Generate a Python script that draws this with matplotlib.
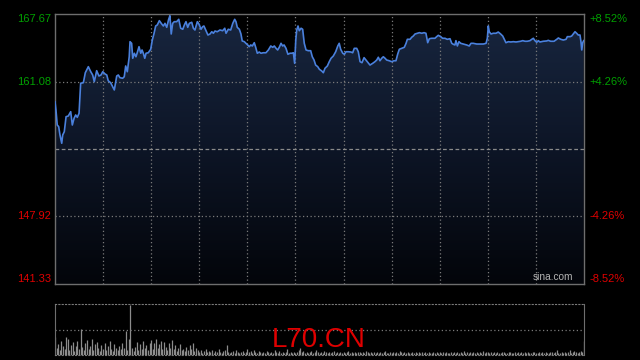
import matplotlib
matplotlib.use("Agg")
import matplotlib.pyplot as plt
import numpy as np
from matplotlib.colors import LinearSegmentedColormap

# ---- data ----
minutes = [0, 0.6, 1.4, 2.3, 3.1, 4.2, 4.8, 5.8, 6.9, 8.3, 9.8, 10.8, 11.9, 12.9, 13.9, 15.0, 16.0, 17.7, 18.9, 20.8,
           22.3, 23.5, 24.5, 26.0, 27.4, 28.7, 29.8, 31.2, 32.3, 33.2, 34.7, 36.0, 37.0, 38.5, 39.5, 40.5, 42.2, 43.2, 44.1, 45.1,
           46.3, 46.8, 47.8, 48.5, 49.5, 50.5, 51.3, 52.4, 53.5, 54.3, 55.1, 56.0, 56.8, 58.2, 59.7, 60.7, 61.8, 62.8, 63.8, 65.1,
           66.6, 67.6, 68.6, 69.7, 70.9, 71.7, 72.5, 73.4, 74.4, 75.9, 77.2, 78.4, 79.7, 80.7, 81.7, 82.8, 83.8, 85.3, 86.3, 87.3,
           88.8, 89.8, 91.1, 92.1, 92.9, 94.2, 95.4, 96.7, 97.8, 98.8, 99.8, 101.2, 102.9, 104.6, 105.9, 106.7, 108.1, 109.6, 110.9, 112.1,
           112.9, 113.7, 115.0, 116.0, 116.8, 118.1, 119.1, 120.2, 121.2, 122.1, 123.1, 124.3, 125.2, 126.2, 127.4, 128.5, 129.9, 131.6, 133.1, 134.6,
           135.8, 136.8, 137.9, 138.9, 139.9, 141.0, 142.0, 142.9, 144.1, 145.3, 146.6, 147.7, 148.7, 149.5, 150.2, 150.8, 151.6, 152.4, 153.5, 154.5,
           155.5, 156.6, 158.0, 159.5, 160.5, 161.6, 162.6, 163.9, 164.9, 166.4, 167.4, 168.4, 169.9, 171.1, 172.2, 173.6, 175.1, 176.4, 177.3, 178.2,
           179.5, 180.5, 181.5, 183.0, 184.6, 185.7, 186.7, 188.2, 189.2, 190.3, 191.5, 192.8, 194.0, 195.3, 196.5, 198.2, 199.6, 200.7, 201.7, 202.7,
           203.8, 204.8, 205.9, 206.9, 208.5, 210.0, 211.5, 212.7, 213.8, 214.8, 216.3, 217.9, 219.0, 219.8, 221.5, 222.5, 223.5, 224.6, 226.0, 227.3,
           228.8, 230.2, 231.4, 232.5, 233.5, 235.0, 237.0, 238.1, 239.1, 240.6, 241.8, 243.3, 244.7, 246.4, 247.5, 248.5, 249.5, 250.1, 251.0, 252.0,
           253.1, 254.7, 256.8, 258.4, 259.5, 260.9, 263.1, 265.6, 267.2, 268.9, 269.7, 270.3, 270.9, 272.0, 273.4, 275.1, 276.5, 278.0, 279.3, 280.3,
           281.3, 282.8, 284.3, 285.9, 287.6, 289.0, 290.5, 291.8, 293.2, 294.6, 296.3, 297.4, 298.4, 299.4, 300.5, 301.5, 302.5, 304.6, 306.7, 307.7,
           309.2, 311.3, 313.0, 314.0, 315.5, 317.1, 318.8, 319.6, 321.3, 322.3, 323.3, 324.4, 325.4, 326.4, 327.5, 328.1, 328.6, 329.2, 329.8]

prices = [159.11, 158.30, 156.84, 156.68, 155.87, 155.06, 155.87, 156.19, 157.65, 157.72, 158.14, 156.84, 157.50, 157.82, 157.59, 157.98, 160.91, 160.97, 161.94, 162.53,
          162.04, 161.72, 161.07, 162.14, 161.62, 161.72, 162.04, 161.82, 161.72, 161.16, 160.97, 160.58, 160.26, 161.62, 161.72, 161.46, 161.40, 161.55, 162.60, 162.04,
          163.50, 164.97, 164.81, 163.35, 163.84, 163.50, 163.89, 164.48, 163.84, 164.16, 163.84, 163.35, 163.84, 163.89, 164.23, 165.13, 165.79, 166.50, 166.60, 167.02,
          166.69, 166.50, 166.76, 166.37, 167.15, 167.50, 165.72, 166.76, 166.92, 166.92, 167.15, 166.28, 166.18, 166.60, 166.92, 166.37, 166.76, 166.86, 166.28, 166.11,
          166.92, 166.69, 166.18, 166.43, 166.50, 166.04, 165.62, 165.72, 165.94, 165.79, 166.01, 165.94, 166.11, 166.04, 166.28, 165.79, 166.18, 166.11, 166.76, 167.15,
          166.92, 166.37, 166.18, 165.72, 165.04, 164.97, 164.81, 164.65, 164.48, 164.65, 164.55, 164.87, 164.42, 163.84, 163.96, 163.84, 163.89, 163.89, 164.16, 164.55,
          164.42, 164.55, 164.32, 164.16, 164.42, 164.81, 164.55, 164.65, 164.32, 163.74, 163.84, 163.84, 163.89, 162.86, 165.13, 166.11, 166.50, 166.04, 166.28, 166.18,
          164.81, 164.16, 164.09, 164.09, 163.50, 163.18, 162.69, 162.53, 162.28, 162.11, 161.94, 162.37, 162.60, 163.02, 163.35, 163.57, 163.99, 164.55, 164.81, 164.23,
          163.84, 163.74, 163.99, 163.99, 163.96, 163.89, 164.32, 164.32, 163.99, 163.02, 162.92, 163.41, 163.18, 162.92, 162.69, 162.86, 163.02, 163.18, 163.45, 163.11,
          163.35, 163.50, 163.35, 163.18, 163.11, 163.02, 163.11, 163.11, 163.77, 164.23, 164.32, 164.42, 164.81, 165.20, 165.20, 165.40, 165.52, 165.72, 165.79, 165.85,
          165.79, 165.85, 165.79, 164.87, 165.26, 165.30, 165.30, 165.46, 165.59, 165.46, 165.30, 165.30, 165.20, 165.26, 164.81, 164.71, 164.65, 165.07, 164.55, 164.97,
          164.81, 164.74, 164.65, 164.55, 164.81, 164.81, 164.74, 164.74, 164.74, 164.81, 165.30, 166.50, 165.94, 165.72, 165.79, 165.79, 165.91, 165.72, 165.52, 165.20,
          164.87, 164.97, 164.94, 164.97, 164.94, 164.97, 165.01, 165.07, 165.01, 165.01, 165.07, 165.20, 165.30, 165.07, 164.91, 165.07, 164.94, 165.01, 165.04, 165.10,
          165.01, 165.01, 165.20, 165.33, 165.20, 165.13, 165.20, 165.46, 165.46, 165.52, 165.72, 165.94, 165.79, 165.62, 165.62, 164.97, 164.16, 164.87, 165.07]

prev_close = 154.50
price_ticks = [141.33, 147.92, 161.08, 167.67]
session_minutes = 330

volumes = [36, 14, 22, 10, 28, 18, 12, 36, 32, 10,
           20, 26, 8, 18, 28, 12, 51, 16, 10, 24,
           30, 12, 18, 32, 10, 22, 26, 14, 8, 20,
           12, 24, 10, 18, 28, 12, 8, 22, 14, 10,
           18, 12, 24, 14, 47, 10, 32, 100, 14, 8,
           16, 26, 10, 22, 12, 28, 14, 20, 10, 24,
           30, 12, 24, 32, 14, 22, 28, 12, 26, 16,
           10, 24, 14, 30, 12, 20, 8, 14, 22, 10,
           12, 8, 16, 10, 20, 12, 24, 8, 14, 10,
           6, 10, 4, 8, 12, 5, 8, 6, 10, 4,
           8, 5, 12, 6, 4, 8, 10, 20, 6, 4,
           5, 8, 4, 10, 6, 3, 5, 8, 4, 6,
           12, 5, 8, 4, 10, 6, 3, 8, 5, 4,
           6, 4, 8, 5, 3, 6, 4, 10, 5, 3,
           8, 4, 6, 3, 5, 12, 4, 6, 3, 5,
           4, 6, 10, 14, 5, 8, 4, 6, 3, 5,
           8, 4, 6, 10, 5, 3, 6, 4, 8, 5,
           4, 6, 3, 5, 8, 4, 6, 3, 5, 4,
           6, 3, 5, 8, 4, 6, 3, 5, 4, 6,
           5, 3, 6, 4, 8, 5, 3, 6, 4, 5,
           3, 5, 4, 6, 3, 5, 8, 4, 3, 6,
           4, 5, 3, 6, 4, 8, 5, 3, 6, 4,
           5, 3, 4, 6, 3, 5, 4, 6, 3, 5,
           4, 6, 3, 5, 4, 3, 6, 4, 5, 3,
           5, 4, 6, 3, 5, 4, 3, 6, 4, 5,
           3, 5, 4, 6, 3, 8, 4, 5, 3, 6,
           4, 5, 3, 6, 4, 5, 3, 8, 4, 5,
           6, 4, 5, 3, 6, 4, 5, 3, 4, 6,
           5, 3, 4, 6, 5, 3, 4, 5, 3, 6,
           4, 5, 3, 6, 4, 5, 3, 4, 6, 5,
           3, 4, 5, 3, 6, 4, 5, 3, 4, 5,
           6, 4, 5, 10, 3, 4, 5, 3, 6, 4,
           5, 10, 4, 6, 8, 5, 4, 6, 8, 5,
           28]
vol_minutes = list(range(len(volumes)))

symbol = "L70.CN"
watermark = "sina.com"

# ---- styling ----
W, H = 640, 360
GREEN = "#00a000"
RED = "#e00000"
GRID = "#7a7a7a"
SPINE = "#6e6e6e"
LINE = "#4a80dc"
FONT = "Liberation Sans"

fig = plt.figure(figsize=(W / 100, H / 100), dpi=100, facecolor="black")
ax = fig.add_axes([55 / W, 76 / H, 529 / W, 270 / H])
ax.set_facecolor("black")
ymin, ymax = price_ticks[0], price_ticks[-1]
ax.set_xlim(0, session_minutes)
ax.set_ylim(ymin, ymax)

# gradient fill under the line
poly = ax.fill_between(minutes, prices, ymin, facecolor="none", edgecolor="none")
cmap = LinearSegmentedColormap.from_list("g", ["#03050a", "#0d1526", "#18263f"])
grad = np.linspace(0, 1, 256).reshape(-1, 1)
im = ax.imshow(grad, extent=[0, session_minutes, ymin, ymax], origin="lower",
               aspect="auto", cmap=cmap, zorder=1, interpolation="bilinear")
im.set_clip_path(poly.get_paths()[0], transform=ax.transData)

# grid
for m in range(30, session_minutes, 30):
    ax.axvline(m, color=GRID, lw=0.9, ls=(0, (1, 2)), zorder=2)
for t in price_ticks[1:-1]:
    ax.axhline(t, color=GRID, lw=0.9, ls=(0, (1, 2)), zorder=2)
ax.axhline(prev_close, color="#8a8a8a", lw=0.9, ls=(0, (3, 2)), zorder=2)

ax.plot(minutes, prices, color=LINE, lw=1.2, zorder=3)

for s in ax.spines.values():
    s.set_color(SPINE)
    s.set_linewidth(1)
ax.set_xticks([])
ax.set_yticks([])

# y labels
for t in price_ticks:
    col = GREEN if t > prev_close else RED
    va = "center"
    if t == ymax:
        va = "top"
    elif t == ymin:
        va = "bottom"
    ax.text(-0.008, t, f"{t:.2f}", transform=ax.get_yaxis_transform(), ha="right", va=va,
            color=col, fontsize=8, family=FONT)
    pct = (t / prev_close - 1) * 100
    ax.text(1.011, t, f"{pct:+.2f}%", transform=ax.get_yaxis_transform(), ha="left", va=va,
            color=col, fontsize=8, family=FONT)

ax.text(0.979, 0.006, watermark, transform=ax.transAxes, ha="right", va="bottom",
        color="#b4b4b4", fontsize=7.3, family=FONT, zorder=4)

# volume panel
axv = fig.add_axes([55 / W, 5 / H, 529 / W, 51 / H])
axv.set_facecolor("black")
vmax = max(volumes)
axv.set_xlim(0, session_minutes)
axv.set_ylim(0, vmax * 1.01)
axv.vlines(vol_minutes, 0, volumes, color="#8c8c8c", lw=0.9)
axv.axhline(vmax / 2, color=GRID, lw=0.9, ls=(0, (1, 2)))
for k in ("top", "bottom"):
    axv.spines[k].set_color(GRID)
    axv.spines[k].set_linestyle((0, (1, 2)))
for k in ("left", "right"):
    axv.spines[k].set_color(SPINE)
axv.set_xticks([])
axv.set_yticks([])
axv.text(0.499, 0.3, symbol, transform=axv.transAxes, ha="center", va="center",
         color=RED, fontsize=20, family=FONT, zorder=5)

fig.savefig("out.png", dpi=100, facecolor="black")
